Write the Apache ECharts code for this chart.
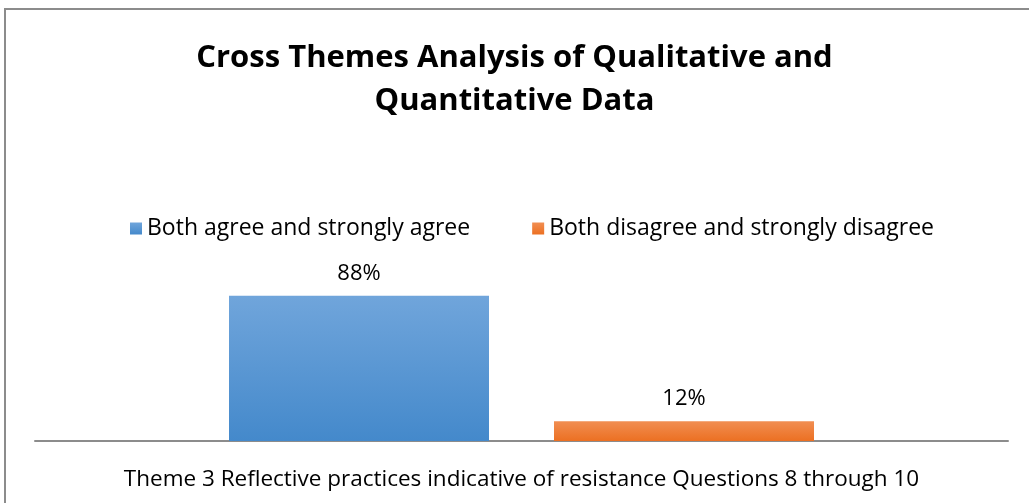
<!DOCTYPE html>
<html>
<head>
<meta charset="utf-8">
<script src="https://cdn.jsdelivr.net/npm/echarts@6/dist/echarts.min.js"></script>
<style>
html,body{margin:0;padding:0;background:#fff;}
#c{width:1029px;height:503px;}
</style>
</head>
<body>
<div id="c"></div>
<script>
const categories = ['Theme 3 Reflective practices indicative of resistance Questions 8 through 10'];
const seriesNames = ['Both agree and strongly agree', 'Both disagree and strongly disagree'];
const agreeValues = [88];
const disagreeValues = [12];
const titleText = 'Cross Themes Analysis of Qualitative and\nQuantitative Data';

const FONT = '"Open Sans", Lato, sans-serif';
const chart = echarts.init(document.getElementById('c'));

function grad(top, bottom) {
  return new echarts.graphic.LinearGradient(0, 0, 0, 1, [
    {offset: 0, color: top}, {offset: 1, color: bottom}
  ]);
}

chart.setOption({
  animation: false,
  backgroundColor: '#fff',
  graphic: [{
    type: 'rect',
    shape: {x: 5, y: 9, width: 1100, height: 600},
    style: {fill: 'none', stroke: '#8c8c8c', lineWidth: 2},
    silent: true
  }],
  title: {
    text: titleText,
    left: 'center',
    top: 32,
    textStyle: {fontFamily: FONT, fontWeight: 'bold', fontSize: 31, color: '#000', lineHeight: 43}
  },
  legend: {
    top: 212,
    left: 125,
    itemWidth: 12,
    itemHeight: 12,
    itemGap: 62,
    icon: 'rect',
    textStyle: {fontFamily: FONT, fontSize: 23, color: '#000'},
    data: seriesNames
  },
  grid: {left: 35, right: 21, top: 276, bottom: 62, containLabel: false},
  xAxis: {
    type: 'category',
    data: categories,
    axisLine: {lineStyle: {color: '#8c8c8c', width: 2}},
    axisTick: {show: false},
    axisLabel: {fontFamily: FONT, fontSize: 22.5, color: '#000', margin: 27}
  },
  yAxis: {
    type: 'value',
    min: 0, max: 100,
    show: false,
    splitLine: {show: false}
  },
  series: [{
    name: seriesNames[0],
    type: 'bar',
    data: agreeValues,
    barWidth: 260,
    barGap: '25%',
    itemStyle: {color: grad('#70a5db', '#4489cb')},
    label: {show: true, position: 'top', distance: 11, formatter: '{c}%', fontFamily: FONT, fontSize: 22, color: '#000'}
  }, {
    name: seriesNames[1],
    type: 'bar',
    data: disagreeValues,
    barWidth: 260,
    barGap: '25%',
    itemStyle: {color: grad('#f18e52', '#ec7022')},
    label: {show: true, position: 'top', distance: 11, formatter: '{c}%', fontFamily: FONT, fontSize: 22, color: '#000'}
  }]
});
</script>
</body>
</html>
